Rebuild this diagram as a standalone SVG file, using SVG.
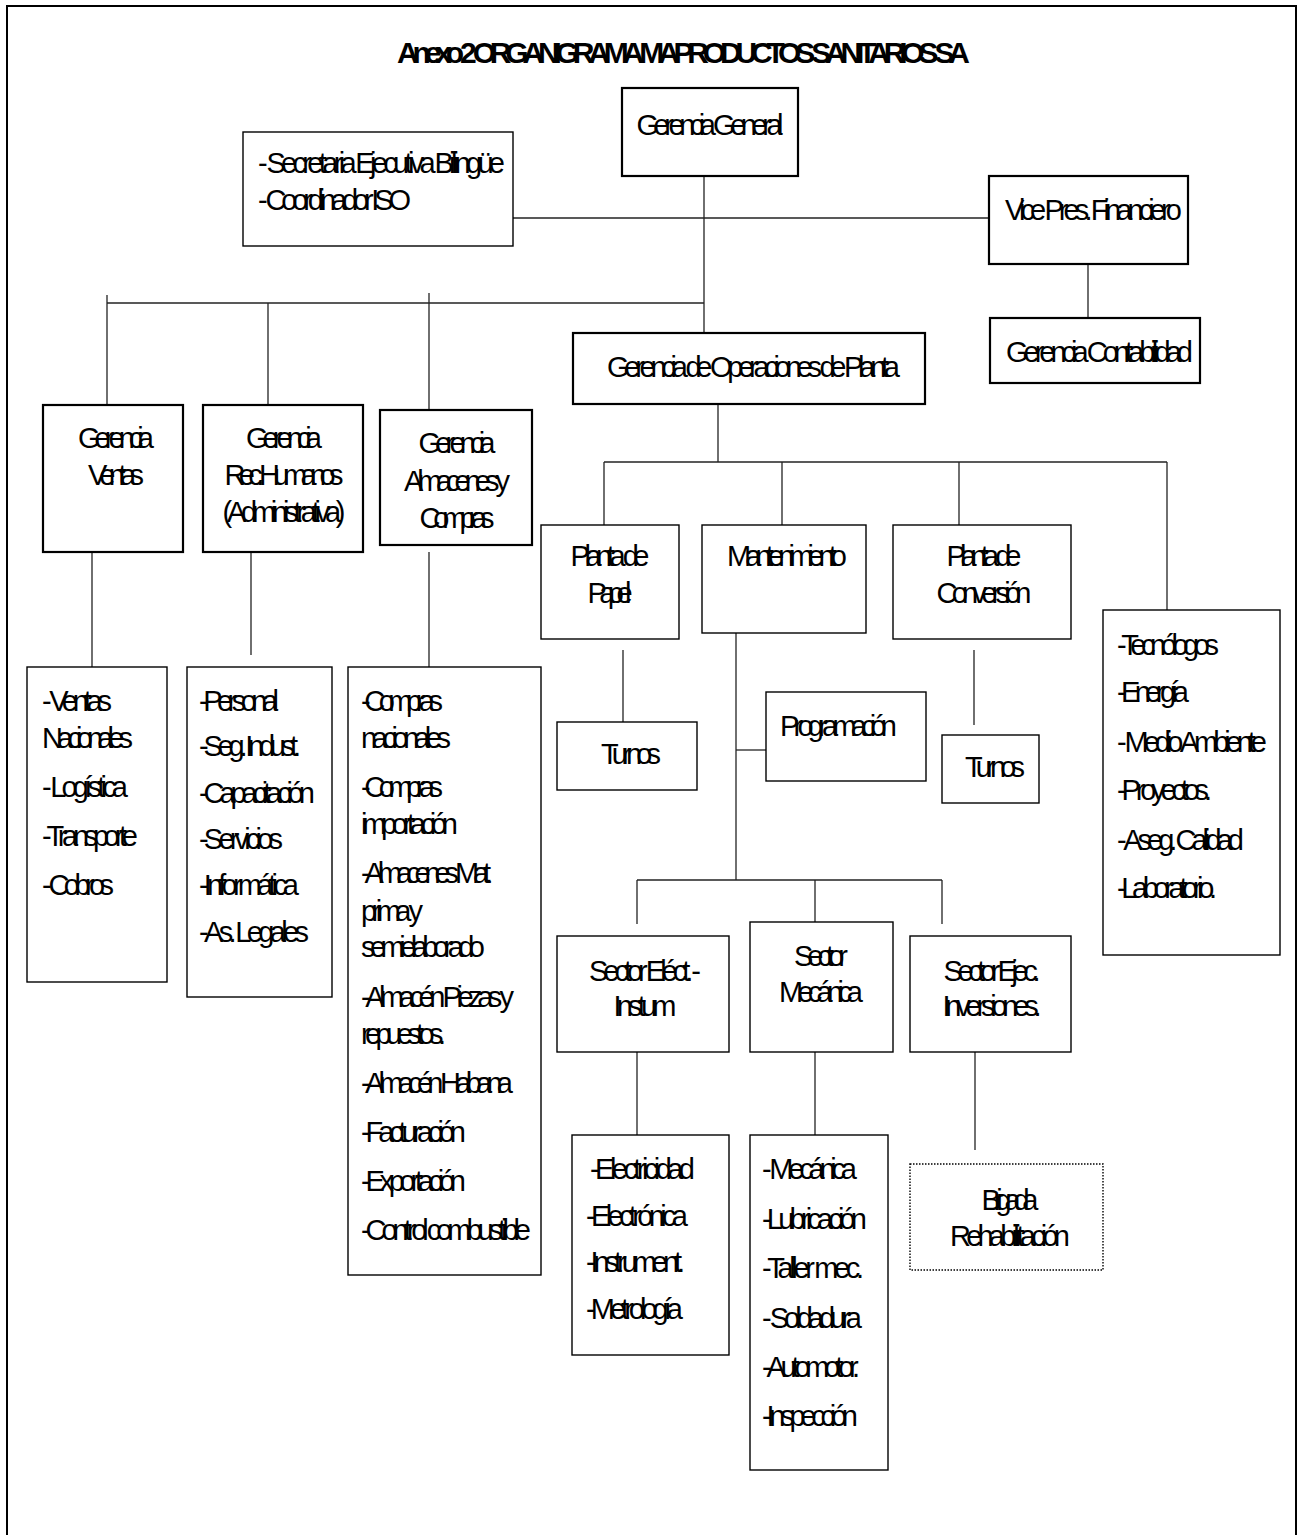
<svg xmlns="http://www.w3.org/2000/svg" width="1302" height="1535" viewBox="0 0 1302 1535">
<style>
text{font-family:"Liberation Sans",Arial,sans-serif;font-size:29px;fill:#000}
.t{font-weight:bold;font-size:30px}
.m{text-anchor:middle}
.b{fill:#fff;stroke:#000;stroke-width:2.2}
.n{fill:#fff;stroke:#000;stroke-width:1.4}
.d{fill:#fff;stroke:#000;stroke-width:1.4;stroke-dasharray:1.5 1.5}
.c line{stroke:#222;stroke-width:1.3}
</style>
<rect x="0" y="0" width="1302" height="1535" fill="#fff"/>
<rect x="7" y="6" width="1289" height="1560" fill="none" stroke="#000" stroke-width="2"/>
<text class="t" x="397" y="63" textLength="573" lengthAdjust="spacing">Anexo 2 ORGANIGRAMA MAPRODUCTOS SANITARIOS SA</text>
<g class="c" id="connectors">
<line x1="704" y1="176" x2="704" y2="333"/>
<line x1="513" y1="218" x2="990" y2="218"/>
<line x1="1088" y1="264" x2="1088" y2="318"/>
<line x1="107" y1="303" x2="704" y2="303"/>
<line x1="107" y1="295" x2="107" y2="405"/>
<line x1="268" y1="303" x2="268" y2="405"/>
<line x1="429" y1="293" x2="429" y2="410"/>
<line x1="718" y1="404" x2="718" y2="462"/>
<line x1="604" y1="462" x2="1167" y2="462"/>
<line x1="604" y1="462" x2="604" y2="525"/>
<line x1="782" y1="462" x2="782" y2="525"/>
<line x1="959" y1="462" x2="959" y2="525"/>
<line x1="1167" y1="462" x2="1167" y2="610"/>
<line x1="92" y1="552" x2="92" y2="667"/>
<line x1="251" y1="552" x2="251" y2="655"/>
<line x1="429" y1="552" x2="429" y2="667"/>
<line x1="623" y1="650" x2="623" y2="722"/>
<line x1="736" y1="633" x2="736" y2="880"/>
<line x1="736" y1="750" x2="766" y2="750"/>
<line x1="974" y1="650" x2="974" y2="725"/>
<line x1="637" y1="880" x2="942" y2="880"/>
<line x1="637" y1="880" x2="637" y2="924"/>
<line x1="815" y1="880" x2="815" y2="922"/>
<line x1="942" y1="880" x2="942" y2="924"/>
<line x1="637" y1="1052" x2="637" y2="1135"/>
<line x1="815" y1="1052" x2="815" y2="1135"/>
<line x1="975" y1="1052" x2="975" y2="1150"/>
</g>
<g id="gerencia-general"><rect class="b" x="622" y="88" width="176" height="88"/>
<text class="m" x="710" y="135" textLength="147" lengthAdjust="spacing">Gerencia General</text></g>
<g id="secretaria"><rect class="n" x="243" y="132" width="270" height="114"/>
<text x="258" y="173" textLength="247" lengthAdjust="spacing">- Secretaria Ejecutiva Bilingüe</text>
<text x="258" y="210" textLength="153" lengthAdjust="spacing">- Coordinador ISO</text></g>
<g id="vice-pres"><rect class="b" x="989" y="176" width="199" height="88"/>
<text x="1005" y="220" textLength="177" lengthAdjust="spacing">Vice Pres. Financiero</text></g>
<g id="contabilidad"><rect class="b" x="990" y="318" width="210" height="65"/>
<text x="1006" y="362" textLength="187" lengthAdjust="spacing">Gerencia Contabilidad</text></g>
<g id="operaciones"><rect class="b" x="573" y="333" width="352" height="71"/>
<text x="607" y="377" textLength="293" lengthAdjust="spacing">Gerencia de Operaciones de Planta</text></g>
<g id="ventas"><rect class="b" x="43" y="405" width="140" height="147"/>
<text class="m" x="116" y="448" textLength="76" lengthAdjust="spacing">Gerencia</text>
<text class="m" x="116" y="485" textLength="56" lengthAdjust="spacing">Ventas</text></g>
<g id="rrhh"><rect class="b" x="203" y="405" width="160" height="147"/>
<text class="m" x="284" y="448" textLength="76" lengthAdjust="spacing">Gerencia</text>
<text class="m" x="284" y="485" textLength="119" lengthAdjust="spacing">Rec. Humanos</text>
<text class="m" x="284" y="522" textLength="123" lengthAdjust="spacing">(Administrativa)</text></g>
<g id="almacenes"><rect class="b" x="380" y="410" width="152" height="135"/>
<text class="m" x="457" y="453" textLength="77" lengthAdjust="spacing">Gerencia</text>
<text class="m" x="457" y="491" textLength="106" lengthAdjust="spacing">Almacenes y</text>
<text class="m" x="457" y="528" textLength="75" lengthAdjust="spacing">Compras</text></g>
<g id="planta-papel"><rect class="n" x="541" y="525" width="138" height="114"/>
<text class="m" x="610" y="566" textLength="79" lengthAdjust="spacing">Planta de</text>
<text class="m" x="610" y="603" textLength="44" lengthAdjust="spacing">Papel</text></g>
<g id="mantenimiento"><rect class="n" x="702" y="525" width="164" height="108"/>
<text class="m" x="787" y="566" textLength="120" lengthAdjust="spacing">Mantenimiento</text></g>
<g id="planta-conversion"><rect class="n" x="893" y="525" width="178" height="114"/>
<text class="m" x="984" y="566" textLength="75" lengthAdjust="spacing">Planta de</text>
<text class="m" x="984" y="603" textLength="95" lengthAdjust="spacing">Conversión</text></g>
<g id="turnos-papel"><rect class="n" x="557" y="722" width="140" height="68"/>
<text class="m" x="631" y="764" textLength="60" lengthAdjust="spacing">Turnos</text></g>
<g id="programacion"><rect class="n" x="766" y="692" width="160" height="89"/>
<text x="780" y="736" textLength="117" lengthAdjust="spacing">Programación</text></g>
<g id="turnos-conversion"><rect class="n" x="942" y="735" width="97" height="68"/>
<text class="m" x="995" y="777" textLength="60" lengthAdjust="spacing">Turnos</text></g>
<g id="tecnologos"><rect class="n" x="1103" y="610" width="177" height="345"/>
<text x="1117" y="655" textLength="102" lengthAdjust="spacing">-Tecnólogos</text>
<text x="1117" y="702" textLength="72" lengthAdjust="spacing">-Energía</text>
<text x="1117" y="752" textLength="150" lengthAdjust="spacing">- Medio Ambiente</text>
<text x="1117" y="800" textLength="95" lengthAdjust="spacing">-Proyectos.</text>
<text x="1117" y="850" textLength="127" lengthAdjust="spacing">- Aseg. Calidad</text>
<text x="1117" y="898" textLength="100" lengthAdjust="spacing">-Laboratorio.</text></g>
<g id="ventas-lista"><rect class="n" x="27" y="667" width="140" height="315"/>
<text x="42" y="711" textLength="70" lengthAdjust="spacing">- Ventas</text>
<text x="42" y="748" textLength="91" lengthAdjust="spacing">Nacionales</text>
<text x="42" y="797" textLength="86" lengthAdjust="spacing">- Logística</text>
<text x="42" y="846" textLength="96" lengthAdjust="spacing">-Transporte</text>
<text x="42" y="895" textLength="72" lengthAdjust="spacing">- Cobros</text></g>
<g id="rrhh-lista"><rect class="n" x="187" y="667" width="145" height="330"/>
<text x="199" y="711" textLength="80" lengthAdjust="spacing">-Personal</text>
<text x="199" y="756" textLength="102" lengthAdjust="spacing">-Seg. Indust.</text>
<text x="199" y="803" textLength="116" lengthAdjust="spacing">-Capacitación</text>
<text x="199" y="849" textLength="84" lengthAdjust="spacing">-Servicios</text>
<text x="199" y="895" textLength="100" lengthAdjust="spacing">-Informática</text>
<text x="199" y="942" textLength="110" lengthAdjust="spacing">-As. Legales</text></g>
<g id="almacenes-lista"><rect class="n" x="348" y="667" width="193" height="608"/>
<text x="361" y="711" textLength="82" lengthAdjust="spacing">-Compras</text>
<text x="361" y="748" textLength="90" lengthAdjust="spacing">nacionales</text>
<text x="361" y="797" textLength="82" lengthAdjust="spacing">-Compras</text>
<text x="361" y="834" textLength="97" lengthAdjust="spacing">importación</text>
<text x="361" y="883" textLength="132" lengthAdjust="spacing">-Almacenes Mat.</text>
<text x="361" y="921" textLength="62" lengthAdjust="spacing">prima y</text>
<text x="361" y="957" textLength="124" lengthAdjust="spacing">semielaborado</text>
<text x="361" y="1007" textLength="153" lengthAdjust="spacing">-Almacén Piezas y</text>
<text x="361" y="1044" textLength="85" lengthAdjust="spacing">repuestos.</text>
<text x="361" y="1093" textLength="152" lengthAdjust="spacing">-Almacén Habana</text>
<text x="361" y="1142" textLength="105" lengthAdjust="spacing">-Facturación</text>
<text x="361" y="1191" textLength="105" lengthAdjust="spacing">-Exportación</text>
<text x="361" y="1240" textLength="170" lengthAdjust="spacing">-Control combustible</text></g>
<g id="sector-electrico"><rect class="n" x="557" y="936" width="172" height="116"/>
<text class="m" x="645" y="981" textLength="112" lengthAdjust="spacing">Sector Eléct. -</text>
<text class="m" x="645" y="1016" textLength="63" lengthAdjust="spacing">Instum</text></g>
<g id="sector-mecanica"><rect class="n" x="750" y="922" width="143" height="130"/>
<text class="m" x="821" y="966" textLength="54" lengthAdjust="spacing">Sector</text>
<text class="m" x="821" y="1002" textLength="84" lengthAdjust="spacing">Mecánica</text></g>
<g id="sector-ejec"><rect class="n" x="910" y="936" width="161" height="116"/>
<text class="m" x="992" y="981" textLength="97" lengthAdjust="spacing">Sector Ejec.</text>
<text class="m" x="992" y="1016" textLength="99" lengthAdjust="spacing">Inversiones.</text></g>
<g id="electrico-lista"><rect class="n" x="572" y="1135" width="157" height="220"/>
<text x="590" y="1179" textLength="105" lengthAdjust="spacing">-Electricidad</text>
<text x="586" y="1226" textLength="102" lengthAdjust="spacing">-Electrónica</text>
<text x="586" y="1272" textLength="99" lengthAdjust="spacing">-Instrument.</text>
<text x="586" y="1319" textLength="97" lengthAdjust="spacing">-Metrología</text></g>
<g id="mecanica-lista"><rect class="n" x="750" y="1135" width="138" height="335"/>
<text x="762" y="1179" textLength="95" lengthAdjust="spacing">- Mecánica</text>
<text x="762" y="1229" textLength="105" lengthAdjust="spacing">-Lubricación</text>
<text x="762" y="1278" textLength="102" lengthAdjust="spacing">-Taller mec.</text>
<text x="762" y="1328" textLength="100" lengthAdjust="spacing">- Soldadura</text>
<text x="762" y="1377" textLength="98" lengthAdjust="spacing">-Automotor.</text>
<text x="762" y="1426" textLength="96" lengthAdjust="spacing">-Inspección</text></g>
<g id="brigada"><rect class="d" x="910" y="1164" width="193" height="106"/>
<text class="m" x="1010" y="1210" textLength="57" lengthAdjust="spacing">Brigada</text>
<text class="m" x="1010" y="1246" textLength="120" lengthAdjust="spacing">Rehabilitación</text></g>
</svg>
